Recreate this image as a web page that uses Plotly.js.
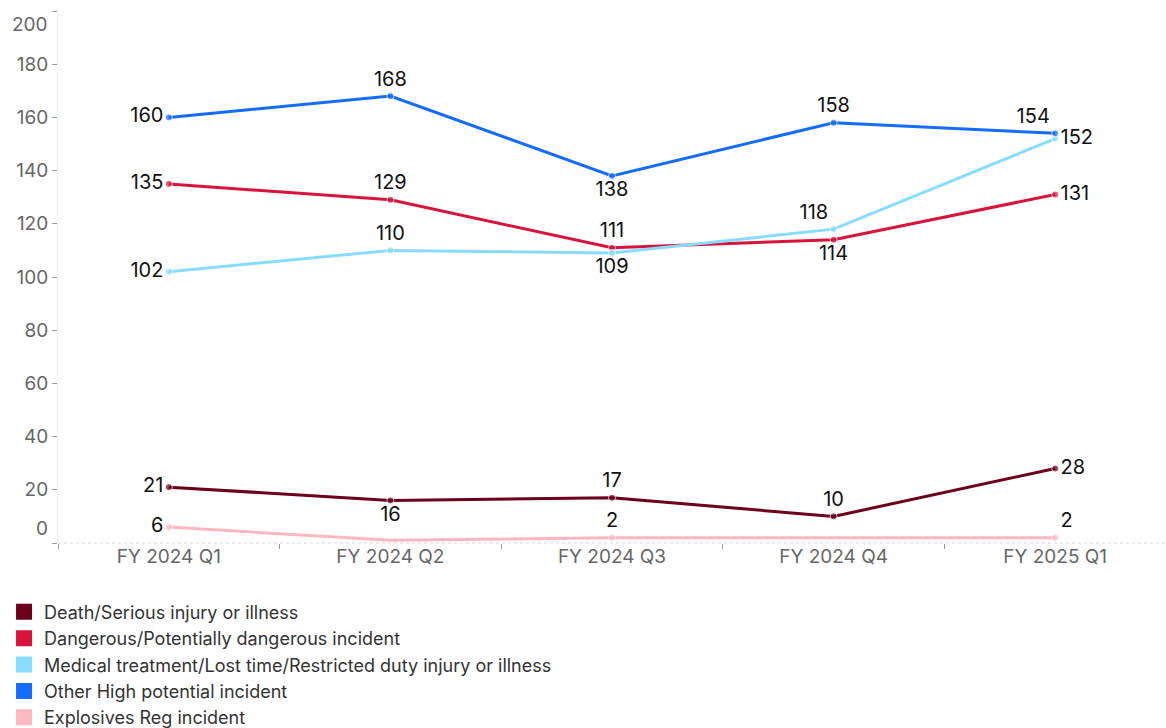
<!DOCTYPE html>
<html><head><meta charset="utf-8">
<script src="https://cdn.plot.ly/plotly-3.0.1.min.js"></script>
<style>html,body{margin:0;padding:0;background:#fff;}#chart{width:1166px;height:728px;}</style>
</head><body><div id="chart"></div>
<script>
const categories = ["FY 2024 Q1","FY 2024 Q2","FY 2024 Q3","FY 2024 Q4","FY 2025 Q1"];
const seriesNames = ["Death/Serious injury or illness","Dangerous/Potentially dangerous incident","Medical treatment/Lost time/Restricted duty injury or illness","Other High potential incident","Explosives Reg incident"];
const deathSerious = [21,16,17,10,28];
const dangerous = [135,129,111,114,131];
const medical = [102,110,109,118,152];
const otherHigh = [160,168,138,158,154];
const explosives = [6,1,2,2,2];
const yTicks = [0,20,40,60,80,100,120,140,160,180,200];

const colors = ["#6b001a","#d8143c","#88dcff","#146cff","#ffb7c1"];
const positions = [
  ["middle left","bottom center","top center","top center","middle right"],
  ["middle left","top center","top center","bottom center","middle right"],
  ["middle left","top center","bottom center","top left","middle right"],
  ["middle left","top center","bottom center","top center","top left"],
  ["middle left","top center","top center","top center","top right"]
];
const hiddenLabels = [[],[],[],[],[1,3]];
const allSeries = [deathSerious,dangerous,medical,otherHigh,explosives];
const font = "Inter, Roboto, sans-serif";
const tickFont = {family:font,size:19,color:"#666"};

const traces = [];
allSeries.forEach((vals,i)=>{
  const hid = hiddenLabels[i];
  traces.push({
    type:"scatter", mode:"lines+markers+text",
    x:categories, y:vals, name:seriesNames[i], showlegend:false,
    text: vals.map((v,j)=> hid.includes(j) ? "" : String(v)),
    textposition: positions[i],
    textfont:{family:font,size:20,color:"#111"},
    line:{color:colors[i],width:3},
    marker:{color:colors[i],size: vals.map((v,j)=> hid.includes(j)?0:7)},
    cliponaxis:false
  });
});
// legend entries as square swatches
allSeries.forEach((vals,i)=>{
  traces.push({type:"scatter",mode:"markers",x:[null],y:[null],name:seriesNames[i],
    marker:{symbol:"square",color:colors[i],size:16},showlegend:true,hoverinfo:"skip"});
});

// end tick labels (0 and 200) are nudged inward, as in the reference
const endTicks = [yTicks[0], yTicks[yTicks.length-1]];
const annotations = endTicks.map((v,k)=>({
  xref:"paper",yref:"y",x:0,y:v,xanchor:"right",yanchor:"middle",xshift:-8,
  yshift: k===0 ? 15 : -13, text:String(v), showarrow:false, font:tickFont
}));

const layout = {
  width:1166,height:728,
  margin:{l:58,r:0,t:11,b:185,autoexpand:false},
  paper_bgcolor:"#fff",plot_bgcolor:"#fff",
  font:{family:font,size:19,color:"#666"},
  xaxis:{type:"category",range:[-0.5,4.5],tickson:"boundaries",ticks:"outside",ticklen:5,tickcolor:"#999",
    showgrid:false,showline:false,zeroline:false,tickfont:tickFont,automargin:false},
  yaxis:{range:[0,200],tickvals:yTicks,ticktext:yTicks.map(v=> endTicks.includes(v) ? "" : String(v)),
    ticks:"outside",ticklen:5,tickcolor:"#999",showgrid:false,zeroline:false,
    showline:true,linecolor:"#eeeeee",linewidth:1,tickfont:tickFont,automargin:false},
  shapes:[{type:"line",xref:"paper",yref:"paper",x0:0,x1:1,y0:0,y1:0,line:{color:"#d8d8d8",width:1,dash:"dot"}}],
  annotations: annotations,
  legend:{orientation:"v",xref:"paper",yref:"paper",x:-0.0487,y:-0.095,xanchor:"left",yanchor:"top",
    font:{family:font,size:18,color:"#333"},itemsizing:"trace",tracegroupgap:0,traceorder:"normal",itemwidth:30},
  showlegend:true
};
Plotly.newPlot("chart",traces,layout,{displayModeBar:false,staticPlot:true});
</script></body></html>
